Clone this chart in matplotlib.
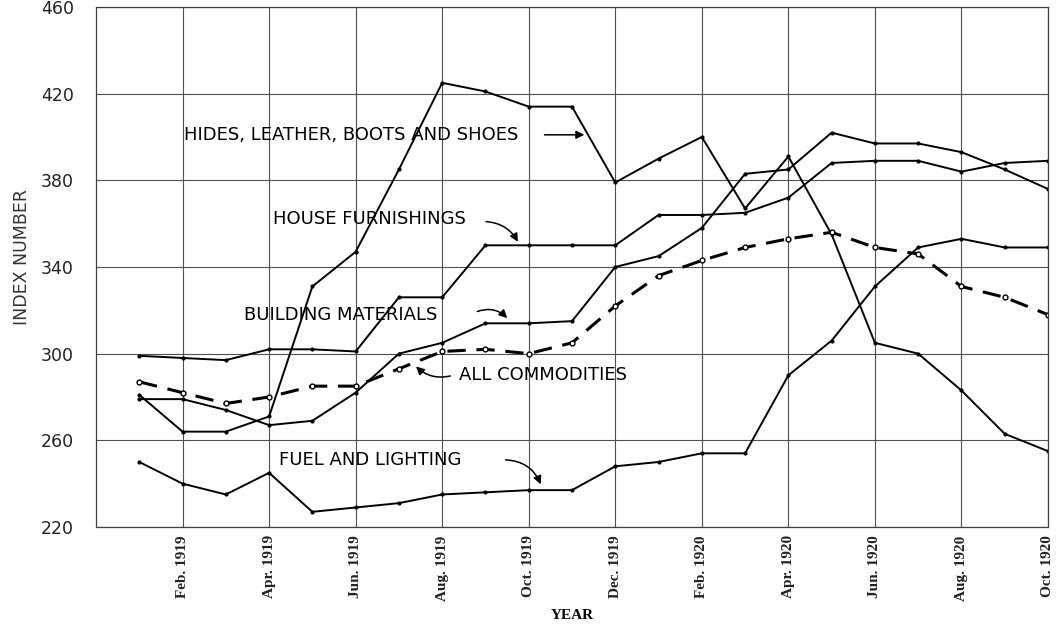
import matplotlib
matplotlib.use("Agg")
from matplotlib import pyplot as plt
import numpy as np

# monthly index numbers, Jan. 1919 .. Oct. 1920
months = np.arange(22)
hides = [281, 264, 264, 271, 331, 347, 385, 425, 421, 414, 414, 379,
         390, 400, 367, 391, 355, 305, 300, 283, 263, 255]
house = [299, 298, 297, 302, 302, 301, 326, 326, 350, 350, 350, 350,
         364, 364, 365, 372, 388, 389, 389, 384, 388, 389]
building = [279, 279, 274, 267, 269, 282, 300, 305, 314, 314, 315, 340,
            345, 358, 383, 385, 402, 397, 397, 393, 385, 376]
fuel = [250, 240, 235, 245, 227, 229, 231, 235, 236, 237, 237, 248,
        250, 254, 254, 290, 306, 331, 349, 353, 349, 349]
all_comm = [287, 282, 277, 280, 285, 285, 293, 301, 302, 300, 305, 322,
            336, 343, 349, 353, 356, 349, 346, 331, 326, 318]

tick_pos = np.arange(1, 22, 2)
tick_labels = ["Feb. 1919", "Apr. 1919", "Jun. 1919", "Aug. 1919", "Oct. 1919",
               "Dec. 1919", "Feb. 1920", "Apr. 1920", "Jun. 1920", "Aug. 1920",
               "Oct. 1920"]
y_ticks = [220, 260, 300, 340, 380, 420, 460]

fig = plt.figure(figsize=(10.62, 6.34), dpi=100)
ax = fig.add_axes([0.0904, 0.1688, 0.8964, 0.8202])

ax.set_xlim(-1, 21)
ax.set_ylim(220, 460)
ax.set_xticks(tick_pos)
ax.set_xticklabels(tick_labels, rotation=90, family="Liberation Serif",
                   fontweight="bold", fontsize=11, color="#222222")
ax.set_yticks(y_ticks)
ax.set_yticklabels([str(v) for v in y_ticks], fontsize=12.5, color="#222222")
ax.tick_params(length=0, pad=6)
ax.tick_params(axis="y", pad=16)
ax.grid(True, color="#505050", linewidth=0.8)
for sp in ax.spines.values():
    sp.set_color("#404040")
    sp.set_linewidth(0.9)

line_kw = dict(color="black", linewidth=1.4, marker=".", markersize=4)
ax.plot(months, hides, **line_kw)
ax.plot(months, house, **line_kw)
ax.plot(months, building, **line_kw)
ax.plot(months, fuel, **line_kw)
ax.plot(months, all_comm, color="black", linewidth=2.2, dashes=(6, 3.5),
        marker="o", markersize=3.5, markerfacecolor="white")

ax.set_ylabel("INDEX NUMBER", fontsize=12.5, color="#333333")
ax.yaxis.set_label_coords(-0.068, 0.52)
ax.set_xlabel("YEAR", family="Liberation Serif", fontweight="bold",
              fontsize=11, labelpad=6)

txt = dict(fontsize=13, color="black", va="center", ha="left")
arr = dict(arrowstyle="-|>", color="black", linewidth=1.1, mutation_scale=12)

ax.text(1.04, 401, "HIDES, LEATHER, BOOTS AND SHOES", **txt)
ax.annotate("", xy=(10.35, 401), xytext=(9.3, 401), arrowprops=arr)

ax.text(3.09, 362, "HOUSE FURNISHINGS", **txt)
ax.annotate("", xy=(8.78, 350.5), xytext=(7.95, 361),
            arrowprops=dict(arr, connectionstyle="arc3,rad=-0.3"))

ax.text(2.42, 318, "BUILDING MATERIALS", **txt)
ax.annotate("", xy=(8.55, 315.5), xytext=(7.75, 319),
            arrowprops=dict(arr, connectionstyle="arc3,rad=-0.35"))

ax.text(7.4, 290, "ALL COMMODITIES", **txt)
ax.annotate("", xy=(6.35, 295), xytext=(7.25, 290),
            arrowprops=dict(arr, connectionstyle="arc3,rad=-0.3"))

ax.text(3.23, 251, "FUEL AND LIGHTING", **txt)
ax.annotate("", xy=(9.3, 238.5), xytext=(8.4, 251),
            arrowprops=dict(arr, connectionstyle="arc3,rad=-0.35"))

fig.savefig("out.png", dpi=100)
